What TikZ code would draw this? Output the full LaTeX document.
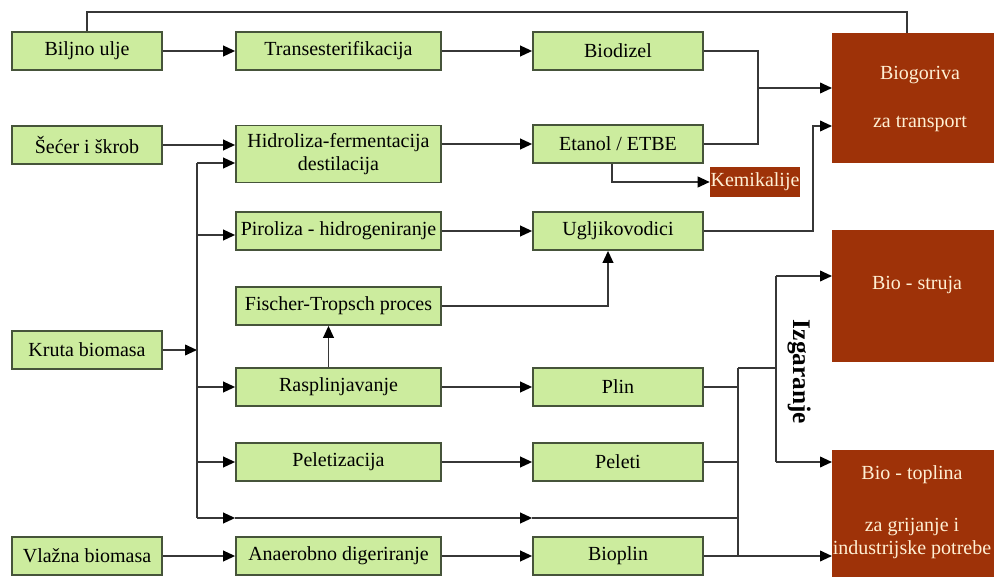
\documentclass[tikz,border=0pt]{standalone}
\usepackage{fontspec}
\setmainfont{Liberation Serif}
\usetikzlibrary{arrows.meta,calc}
\definecolor{gfill}{RGB}{204,236,158}
\definecolor{gline}{RGB}{70,84,58}
\definecolor{brn}{RGB}{158,50,8}
\definecolor{cream}{RGB}{255,240,212}
\definecolor{cline}{RGB}{55,55,55}
\begin{document}
\begin{tikzpicture}[x=0.75pt,y=-0.75pt,
  gbox/.style={draw=gline,line width=1.3pt,fill=gfill,inner sep=1pt,minimum height=28.5pt,
    font=\fontsize{15}{17}\selectfont,align=center},
  lbox/.style={gbox,minimum width=112.5pt},
  mbox/.style={gbox,minimum width=153.75pt},
  rbox/.style={gbox,minimum width=127.5pt},
  bbox/.style={fill=brn,draw=none,inner sep=0pt},
  btext/.style={text=cream,font=\fontsize{15}{17}\selectfont,align=center,inner sep=0pt},
  conn/.style={draw=cline,line width=1.3pt},
  arr/.style={conn,-{Triangle[length=9pt,width=8pt,color=black]}}]
\useasboundingbox (0,0) rectangle (994,577);
\clip (0,0) rectangle (994,577);
% left column
\node[lbox] (bu) at (87,51) {Biljno ulje};
\node[lbox] (ss) at (87,145) {Šećer i škrob};
\node[lbox] (kb) at (87,350) {Kruta biomasa};
\node[lbox] (vb) at (87,556) {Vlažna biomasa};
% middle column
\node[mbox] (tr) at (338.5,51) {Transesterifikacija};
\node[mbox,minimum height=42.75pt] (hi) at (338.5,154) {Hidroliza-fermentacija\\destilacija};
\node[mbox] (pi) at (338.5,231) {Piroliza - hidrogeniranje};
\node[mbox] (ft) at (338.5,306) {Fischer-Tropsch proces};
\node[mbox] (ra) at (338.5,387) {Rasplinjavanje};
\node[mbox] (pz) at (338.5,462) {Peletizacija};
\node[mbox] (ad) at (338.5,556) {Anaerobno digeriranje};
% right green column
\node[rbox] (bd) at (618,51) {Biodizel};
\node[rbox] (et) at (618,144) {Etanol / ETBE};
\node[rbox] (ug) at (618,231) {Ugljikovodici};
\node[rbox] (pl) at (618,387) {Plin};
\node[rbox] (pe) at (618,462) {Peleti};
\node[rbox] (bp) at (618,556) {Bioplin};
% brown boxes
\node[bbox,minimum width=67.5pt,minimum height=22.5pt,text=cream,font=\fontsize{15}{17}\selectfont] (km) at (755,182) {Kemikalije};
\node[bbox,anchor=north west,minimum width=135pt,minimum height=97.5pt] (bg) at (832,33) {};
\node[btext] (bgt) at (920,99) {Biogoriva\\[19pt]za transport};
\node[bbox,anchor=north west,minimum width=135pt,minimum height=99pt] (bs) at (832,230) {};
\node[btext] (bst) at (917,285) {Bio - struja};
\node[bbox,anchor=north west,minimum width=135pt,minimum height=110pt] (bt) at (832,450) {};
\node[btext] (btt) at (912,512) {Bio - toplina\\[22pt]za grijanje i\\industrijske potrebe};
\node[rotate=-90,font=\fontsize{19}{22}\selectfont\bfseries,inner sep=0pt] (izg) at (799,372) {Izgaranje};
% top line
\coordinate (topc) at (907,12);
\draw[conn] (bu.north) |- (topc) -- (topc |- bg.north);
% rows
\draw[arr] (bu.east) -- (tr.west);
\draw[arr] (tr.east) -- (bd.west);
\draw[arr] (ss.east) -- (ss.east -| hi.west);
\draw[arr] (hi.east |- et.east) -- (et.west);
\coordinate (m1) at (758,88);
\draw[conn] (bd.east) -| (m1);
\draw[conn] (et.east) -| (m1);
\draw[arr] (m1) -- (m1 -| bg.west);
\coordinate (ek) at ($(et.south)+(-6,0)$);
\draw[arr] (ek) |- (km.west);
\coordinate (m2) at (813,126);
\draw[arr] (ug.east) -| (m2) -- (m2 -| bg.west);
% bus from Kruta biomasa
\coordinate (busT) at (197,163);
\coordinate (busK) at (197,350);
\coordinate (busB) at (197,518);
\draw[arr] (kb.east) -- (busK);
\draw[conn] (busT) -- (busB);
\draw[arr] (busT) -- (busT -| hi.west);
\draw[arr] ([yshift=-3pt]pi.west -| busT) -- ([yshift=-3pt]pi.west);
\draw[arr] (ra.west -| busT) -- (ra.west);
\draw[arr] (pz.west -| busT) -- (pz.west);
\coordinate (b1) at (busB -| pz.west);
\coordinate (b2) at (busB -| pe.west);
\coordinate (colT) at (738,368);
\coordinate (colB) at (738,556);
\coordinate (b3) at (busB -| colT);
\draw[arr] (busB) -- (b1);
\draw[arr] (b1) -- (b2);
\draw[conn] (b2) -- (b3);
\draw[arr] (vb.east) -- (ad.west);
\draw[arr] (pi.east) -- (ug.west);
\coordinate (u2) at ($(ug.south)+(-10,0)$);
\draw[arr] (ft.east) -| (u2);
\draw[arr] ($(ra.north)+(-10,0)$) -- ($(ft.south)+(-10,0)$);
\draw[arr] (ra.east) -- (pl.west);
\draw[arr] (pz.east) -- (pe.west);
\draw[arr] (ad.east) -- (bp.west);
% collector
\draw[conn] (pl.east) -- (pl.east -| colT);
\draw[conn] (pe.east) -- (pe.east -| colT);
\draw[conn] (colT) -- (colB);
\draw[arr] (bp.east) -- (bp.east -| bt.west);
\coordinate (s0) at (776,368);
\coordinate (s1) at (776,276);
\coordinate (s2) at (776,462);
\draw[conn] (colT) -- (s0);
\draw[conn] (s1) -- (s2);
\draw[arr] (s1) -- (s1 -| bs.west);
\draw[arr] (s2) -- (s2 -| bt.west);
\end{tikzpicture}
\end{document}
